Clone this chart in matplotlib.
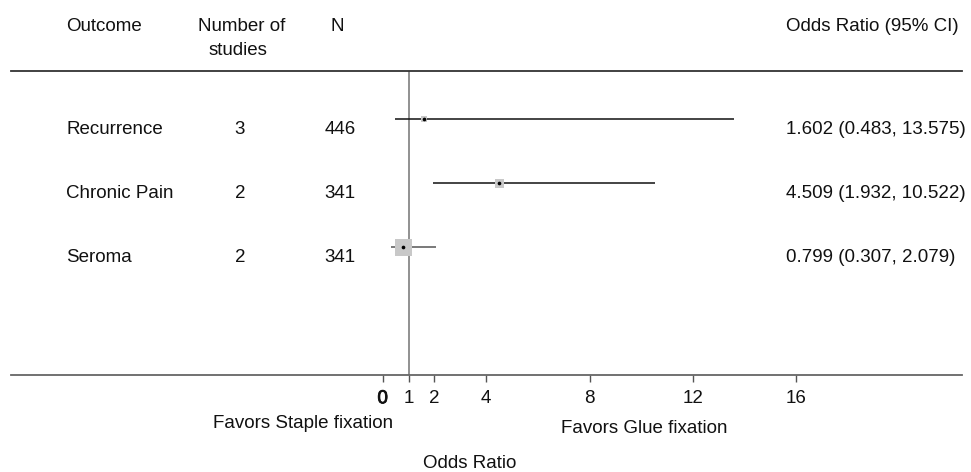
import matplotlib
matplotlib.use("Agg")
import matplotlib.pyplot as plt
import matplotlib.transforms as mtransforms
import matplotlib.patheffects as pe
import numpy as np

plt.rcParams['font.family'] = ['Liberation Sans', 'DejaVu Sans']

# ---- data ----
outcomes = ["Recurrence", "Chronic Pain", "Seroma"]
n_studies = [3, 2, 2]
n_patients = [446, 341, 341]
odds_ratio = [1.602, 4.509, 0.799]
ci_low = [0.483, 1.932, 0.307]
ci_high = [13.575, 10.522, 2.079]
weights = [9, 20, 71]  # relative study weights (box area), estimated
x_ticks = [0, 1, 2, 4, 8, 12, 16]

W, H = 971, 472
fig = plt.figure(figsize=(W / 100, H / 100), dpi=100)

# axes spanning px x 11..962, y 71..375
ax = fig.add_axes([11 / W, (H - 375) / H, 951 / W, 304 / H])
ax.set_xlim(-14.38, 22.41)
ax.set_ylim(3.995, -0.755)

for s in ["left", "right"]:
    ax.spines[s].set_visible(False)
ax.spines["top"].set_color("#333333")
ax.spines["top"].set_linewidth(1.3)
ax.spines["bottom"].set_color("#666666")
ax.spines["bottom"].set_linewidth(1.3)
ax.set_yticks([])
ax.set_xticks(x_ticks)
ax.set_xticklabels([str(t) for t in x_ticks])
ax.tick_params(axis="x", direction="out", length=5, width=1, color="#555555",
               pad=6, labelsize=13.5, labelcolor="#111111")
# the "0" label appears heavier in the reference
ax.get_xticklabels()[0].set_path_effects(
    [pe.withStroke(linewidth=0.6, foreground="#111111")])

# reference line at OR = 1
ax.axvline(1, color="#888888", lw=1.3, zorder=1)

rows = np.arange(len(outcomes))
line_colors = ["#111111", "#111111", "#555555"]
for i in rows:
    ax.plot([ci_low[i], ci_high[i]], [i, i], color=line_colors[i], lw=1.1, zorder=2,
            solid_capstyle="butt")

side_px = 17 / np.sqrt(max(weights)) * np.sqrt(np.array(weights))
ax.scatter(odds_ratio, rows, marker="s", s=(side_px * 0.72) ** 2, color="#c8c8c8",
           linewidths=0, zorder=3)
ax.scatter(odds_ratio, rows, marker="o", s=7, color="black", linewidths=0, zorder=4)

# pixel-coordinate transform for text (origin top-left)
pix = mtransforms.Affine2D().scale(1 / W, -1 / H).translate(0, 1) + fig.transFigure
fs = 13.5
col = "#111111"

def ptext(x, y, s, ha="left"):
    fig.text(x, y, s, transform=pix, ha=ha, va="baseline", fontsize=fs, color=col)

# headers
ptext(104, 31, "Outcome", ha="center")
ptext(242, 31, "Number of", ha="center")
ptext(238, 55, "studies", ha="center")
ptext(337, 31, "N", ha="center")
ptext(786, 31, "Odds Ratio (95% CI)", ha="left")

# row text: x in pixels, y in data units, shifted down to baseline
row_tr = mtransforms.blended_transform_factory(pix, ax.transData)
off = mtransforms.ScaledTranslation(0, -14.7 / 100, fig.dpi_scale_trans)
for i in rows:
    kw = dict(transform=row_tr + off, va="baseline", fontsize=fs, color=col)
    fig.text(66, i, outcomes[i], ha="left", **kw)
    fig.text(240, i, str(n_studies[i]), ha="center", **kw)
    fig.text(340, i, str(n_patients[i]), ha="center", **kw)
    fig.text(786, i, f"{odds_ratio[i]:.3f} ({ci_low[i]:.3f}, {ci_high[i]:.3f})",
             ha="left", **kw)

# bottom annotations
ptext(303, 428, "Favors Staple fixation", ha="center")
ptext(644, 433, "Favors Glue fixation", ha="center")
ptext(470, 468, "Odds Ratio", ha="center")

fig.savefig("out.png", dpi=100)
